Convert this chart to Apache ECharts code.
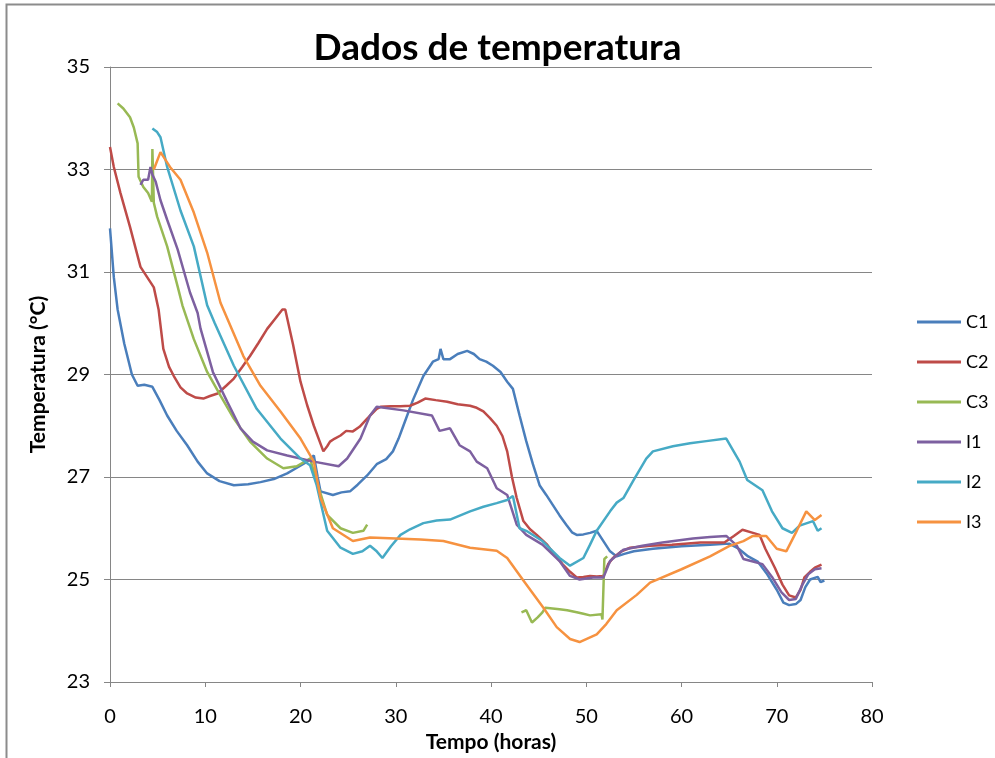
<!DOCTYPE html>
<html>
<head>
<meta charset="utf-8">
<script src="https://cdn.jsdelivr.net/npm/echarts@6/dist/echarts.min.js"></script>
<style>
  html, body { margin: 0; padding: 0; background: #fff; }
  #chart { width: 995px; height: 758px; }
</style>
</head>
<body>
<div id="chart"></div>
<script>
// Temperature logs, [hours, °C]
const seriesNames = ['C1', 'C2', 'C3', 'I1', 'I2', 'I3'];

const C1 = [[0,31.85],[0.4,30.9],[0.8,30.27],[1.5,29.6],[2.3,29.0],[2.9,28.78],[3.6,28.8],[4.45,28.76],[5.2,28.5],[6.0,28.2],[7.0,27.9],[8.1,27.62],[9.2,27.3],[10.2,27.07],[11.5,26.92],[13.0,26.84],[14.5,26.86],[15.8,26.9],[17.2,26.96],[18.6,27.07],[19.8,27.2],[20.7,27.3],[21.4,27.42],[21.8,27.0],[22.1,26.72],[23.4,26.65],[24.3,26.7],[25.2,26.72],[26.0,26.85],[27.0,27.03],[28.0,27.25],[29.0,27.35],[29.7,27.5],[30.3,27.75],[30.8,28.0],[31.8,28.5],[32.9,28.97],[33.9,29.25],[34.5,29.3],[34.7,29.5],[35.0,29.3],[35.7,29.3],[36.5,29.4],[37.5,29.46],[38.2,29.4],[38.8,29.3],[39.5,29.25],[40.2,29.17],[41.0,29.05],[41.7,28.86],[42.3,28.72],[43.0,28.2],[43.7,27.7],[44.4,27.25],[45.1,26.84],[45.8,26.65],[46.5,26.45],[47.2,26.25],[47.9,26.07],[48.5,25.92],[49.0,25.87],[49.7,25.88],[50.4,25.91],[51.1,25.95],[51.8,25.75],[52.5,25.55],[53.2,25.45],[54.0,25.5],[55.0,25.55],[57.0,25.6],[60.0,25.65],[63.0,25.68],[65.0,25.7],[66.0,25.6],[67.0,25.45],[68.0,25.35],[69.0,25.1],[70.0,24.8],[70.7,24.55],[71.3,24.5],[72.0,24.52],[72.5,24.6],[73.0,24.85],[73.5,25.0],[74.3,25.05],[74.6,24.95],[75.0,24.98]];

const C2 = [[0,33.44],[0.4,33.05],[1.1,32.54],[2.1,31.88],[3.2,31.1],[3.9,30.9],[4.6,30.7],[5.1,30.27],[5.6,29.5],[6.2,29.15],[6.7,28.97],[7.4,28.75],[8.1,28.63],[9.0,28.55],[9.8,28.53],[10.5,28.58],[11.3,28.63],[12.2,28.78],[13.0,28.92],[13.9,29.15],[14.7,29.36],[15.6,29.62],[16.5,29.89],[17.3,30.08],[18.1,30.27],[18.4,30.27],[19.2,29.6],[20.0,28.86],[20.7,28.4],[21.4,28.0],[22.0,27.7],[22.4,27.5],[22.8,27.6],[23.1,27.69],[23.6,27.75],[24.2,27.81],[24.8,27.9],[25.5,27.89],[26.2,27.98],[27.0,28.14],[28.0,28.33],[28.4,28.37],[29.5,28.38],[30.5,28.38],[31.5,28.39],[32.3,28.45],[33.1,28.53],[34.2,28.5],[35.4,28.47],[36.5,28.42],[37.8,28.39],[38.5,28.35],[39.2,28.28],[39.9,28.15],[40.6,28.0],[41.2,27.8],[41.7,27.5],[42.2,27.0],[42.7,26.59],[43.4,26.14],[44.1,25.98],[44.8,25.87],[45.9,25.68],[46.7,25.48],[47.5,25.3],[48.3,25.15],[49.0,25.04],[49.7,25.05],[50.4,25.07],[51.1,25.06],[51.8,25.07],[52.3,25.3],[52.8,25.42],[53.7,25.55],[54.6,25.62],[56.7,25.66],[59.0,25.68],[62.0,25.72],[64.5,25.72],[65.5,25.85],[66.4,25.97],[67.5,25.91],[68.2,25.87],[68.8,25.6],[69.8,25.23],[70.6,24.9],[71.3,24.69],[72.0,24.65],[72.5,24.8],[72.9,25.04],[73.5,25.15],[74.0,25.23],[74.7,25.29]];

const C3 = [[0.8,34.29],[1.4,34.19],[2.1,34.02],[2.5,33.82],[2.9,33.51],[3.0,32.86],[3.5,32.66],[4.0,32.54],[4.4,32.37],[4.45,33.4],[4.6,32.35],[4.95,32.08],[6.0,31.5],[7.1,30.72],[7.6,30.35],[8.8,29.69],[10.2,29.05],[11.6,28.59],[13.0,28.14],[14.7,27.69],[16.5,27.36],[18.2,27.17],[19.6,27.21],[21.0,27.36],[21.7,26.92],[22.8,26.26],[24.2,26.0],[25.5,25.91],[26.6,25.95],[27.0,26.07],[35,null],[43.2,24.36],[43.7,24.4],[44.3,24.16],[44.9,24.26],[45.4,24.36],[45.7,24.45],[47.2,24.42],[48.0,24.4],[49.0,24.36],[49.7,24.33],[50.4,24.3],[51.6,24.32],[51.7,24.22],[51.9,25.4],[52.2,25.45]];

const I1 = [[3.2,32.7],[3.5,32.8],[4.0,32.8],[4.25,33.05],[4.45,32.9],[4.8,32.76],[5.3,32.4],[6.0,32.02],[7.1,31.44],[8.4,30.6],[9.2,30.2],[9.5,29.9],[10.8,29.05],[12.3,28.47],[13.7,27.95],[15.0,27.69],[16.5,27.52],[18.6,27.42],[21.4,27.3],[24.0,27.21],[24.9,27.36],[26.3,27.75],[27.3,28.2],[28.0,28.37],[30.8,28.3],[33.8,28.2],[34.6,27.9],[35.7,27.95],[36.7,27.62],[37.8,27.5],[38.5,27.3],[39.6,27.17],[40.6,26.78],[41.7,26.65],[42.7,26.07],[43.7,25.87],[45.4,25.68],[47.2,25.36],[48.3,25.07],[49.3,25.0],[50.7,25.04],[51.8,25.04],[52.5,25.36],[53.9,25.58],[55.9,25.66],[58.0,25.72],[61.2,25.8],[63.0,25.83],[64.7,25.85],[65.8,25.66],[66.5,25.4],[67.5,25.35],[68.5,25.3],[69.5,25.05],[70.5,24.75],[71.3,24.6],[72.0,24.62],[72.7,24.9],[73.3,25.1],[74.0,25.2],[74.7,25.22]];

const I2 = [[4.45,33.8],[4.95,33.73],[5.3,33.63],[6.0,33.05],[7.4,32.2],[8.8,31.5],[10.2,30.35],[11.0,30.0],[13.0,29.17],[15.4,28.33],[17.9,27.75],[20.0,27.36],[21.0,27.23],[21.7,26.84],[22.8,25.95],[24.2,25.62],[25.5,25.5],[26.5,25.55],[27.3,25.66],[28.0,25.55],[28.6,25.42],[29.5,25.65],[30.5,25.87],[31.5,25.98],[32.9,26.1],[34.3,26.15],[35.7,26.17],[37.8,26.33],[39.2,26.42],[40.6,26.49],[41.7,26.55],[42.3,26.63],[43.0,26.0],[43.7,25.95],[45.4,25.75],[47.2,25.42],[48.3,25.27],[49.7,25.42],[50.4,25.68],[51.1,25.95],[52.5,26.33],[53.2,26.5],[53.9,26.59],[55.0,26.95],[56.3,27.36],[57.0,27.5],[59.1,27.6],[60.9,27.66],[62.6,27.7],[64.7,27.75],[66.1,27.3],[66.9,26.94],[68.5,26.74],[69.5,26.33],[70.6,26.0],[71.6,25.91],[72.4,26.05],[73.8,26.14],[74.3,25.95],[74.7,26.0]];

const I3 = [[4.6,33.0],[5.3,33.34],[6.3,33.05],[7.4,32.8],[8.8,32.16],[10.2,31.38],[11.6,30.4],[14.0,29.36],[15.8,28.78],[17.9,28.28],[20.0,27.75],[21.4,27.3],[22.1,26.59],[23.4,26.0],[25.5,25.75],[27.3,25.82],[30.0,25.8],[32.6,25.78],[35.0,25.75],[37.8,25.62],[40.6,25.56],[41.7,25.42],[43.4,24.98],[45.5,24.45],[46.9,24.07],[48.3,23.84],[49.3,23.78],[51.1,23.93],[52.1,24.13],[53.2,24.4],[55.3,24.7],[56.7,24.94],[60.0,25.2],[63.0,25.45],[65.0,25.65],[66.5,25.75],[67.5,25.85],[68.9,25.85],[70.0,25.6],[71.0,25.55],[72.1,25.95],[73.1,26.33],[74.0,26.16],[74.7,26.26]];

const seriesData = [C1, C2, C3, I1, I2, I3];
const palette = ['#4A7EBB', '#BE4B48', '#98B954', '#7D60A0', '#46AAC5', '#F69240'];

const FONT = 'Lato, "Open Sans", sans-serif';
const chart = echarts.init(document.getElementById('chart'), null, { renderer: 'canvas' });

chart.setOption({
  animation: false,
  backgroundColor: '#fff',
  color: palette,
  graphic: [{
    type: 'rect',
    shape: { x: 6.5, y: 4.5, width: 1000, height: 800 },
    style: { fill: 'none', stroke: '#8c8c8c', lineWidth: 2 },
    silent: true, z: -1
  }],
  title: {
    text: 'Dados de temperatura',
    left: 'center',
    top: 25,
    textStyle: { fontFamily: FONT, fontSize: 37, fontWeight: 'bold', color: '#000' }
  },
  legend: {
    orient: 'vertical',
    left: 912,
    top: 308,
    icon: 'rect',
    itemWidth: 44,
    itemHeight: 3,
    itemGap: 22,
    textStyle: { fontFamily: FONT, fontSize: 18, color: '#000' },
    data: seriesNames
  },
  grid: { left: 110, right: 123, top: 67, bottom: 73, containLabel: false },
  xAxis: {
    type: 'value',
    min: 0, max: 80, interval: 10,
    name: 'Tempo (horas)',
    nameLocation: 'middle',
    nameGap: 50,
    nameTextStyle: { fontFamily: FONT, fontSize: 21, fontWeight: 'bold', color: '#000' },
    axisLine: { show: true, lineStyle: { color: '#868686', width: 1 } },
    axisTick: { show: true, length: 5, inside: false, lineStyle: { color: '#868686' } },
    axisLabel: { fontFamily: FONT, fontSize: 20, color: '#000', margin: 25 },
    splitLine: { show: false }
  },
  yAxis: {
    type: 'value',
    min: 23, max: 35, interval: 2,
    name: 'Temperatura (°C)',
    nameLocation: 'middle',
    nameGap: 61,
    nameTextStyle: { fontFamily: FONT, fontSize: 21, fontWeight: 'bold', color: '#000' },
    axisLine: { show: true, lineStyle: { color: '#868686', width: 1 } },
    axisTick: { show: true, length: 6, inside: false, lineStyle: { color: '#868686' } },
    axisLabel: { fontFamily: FONT, fontSize: 20, color: '#000', margin: 20 },
    splitLine: { show: true, lineStyle: { color: '#868686', width: 1 } }
  },
  series: seriesNames.map((name, i) => ({
    name,
    type: 'line',
    data: seriesData[i],
    showSymbol: false,
    symbol: 'none',
    connectNulls: false,
    lineStyle: { width: 2.5, color: palette[i] },
    itemStyle: { color: palette[i] }
  }))
});
</script>
</body>
</html>
